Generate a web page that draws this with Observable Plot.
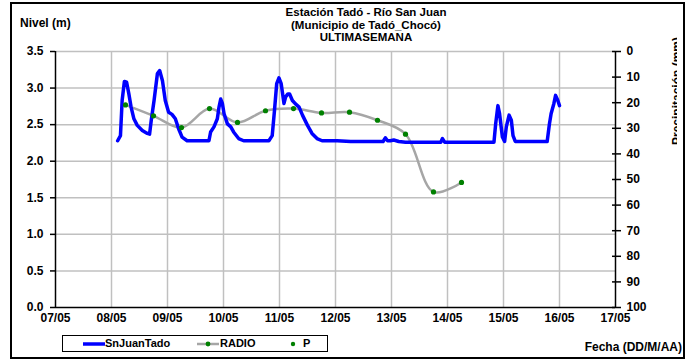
<!DOCTYPE html>
<html><head><meta charset="utf-8">
<script src="https://cdn.jsdelivr.net/npm/d3@7"></script>
<script src="https://cdn.jsdelivr.net/npm/@observablehq/plot@0.6"></script>
<style>
body{margin:0;background:#fff;font-family:"Liberation Sans",Arial,sans-serif;font-weight:bold;}
#wrap{position:relative;width:690px;height:360px;overflow:hidden;}
#frame{position:absolute;left:10px;top:2px;width:675px;height:357px;border:2px solid #000;box-sizing:border-box;}
#chart{position:absolute;left:0;top:0;}
.t{position:absolute;font-size:12px;white-space:nowrap;color:#000;}
#title{left:256px;width:220px;top:6px;text-align:center;font-size:11.5px;line-height:12.5px;}
#legend{position:absolute;left:62px;top:335px;width:266px;height:17px;border:1.5px solid #000;box-sizing:border-box;font-size:11px;}
#legend span{position:absolute;top:1px;}
#rlab{position:absolute;left:671px;top:36px;width:6px;height:110px;overflow:hidden;}
#rlab div{position:absolute;left:-49px;top:48px;width:110px;transform:rotate(-90deg);font-size:12px;line-height:14px;text-align:center;white-space:nowrap;}
</style></head>
<body><div id="wrap">
<div id="chart"></div>
<div id="frame"></div>
<div class="t" id="title">Estación Tadó - Río San Juan<br>(Municipio de Tadó_Chocó)<br>ULTIMASEMANA</div>
<div class="t" style="left:20px;top:16px;">Nivel (m)</div>
<div id="rlab"><div>Precipitación (mm)</div></div>
<div class="t" style="right:8px;top:340px;">Fecha (DD/M/AA)</div>
<div id="legend"></div>
</div>
<script>
// Series: SnJuanTado level (m), by day of May
const snDays = [8.11,8.16,8.19,8.23,8.27,8.31,8.35,8.40,8.46,8.55,8.64,8.68,8.71,8.76,8.82,8.86,8.91,8.96,9.02,9.08,9.14,9.20,9.26,9.35,
  9.74,9.77,9.83,9.89,9.92,9.95,9.98,10.01,10.07,10.13,10.18,10.27,10.36,
  10.81,10.87,10.91,10.95,10.99,11.03,11.08,11.11,11.15,11.18,11.23,11.29,11.35,11.41,11.50,11.58,11.67,11.76,
  12.03,12.27,12.75,12.85,12.89,12.93,12.98,13.04,13.13,13.25,13.88,13.91,13.95,
  14.83,14.86,14.90,14.93,14.98,15.02,15.05,15.10,15.14,15.17,15.21,
  15.78,15.82,15.85,15.90,15.93,15.97,16.00];
const snLevels = [2.28,2.35,2.83,3.09,3.08,2.92,2.74,2.58,2.49,2.42,2.38,2.37,2.56,2.83,3.20,3.24,3.10,2.83,2.67,2.64,2.58,2.44,2.33,2.28,
  2.28,2.40,2.47,2.58,2.74,2.85,2.79,2.65,2.51,2.47,2.40,2.31,2.28,
  2.28,2.35,2.69,3.06,3.14,3.06,2.79,2.88,2.92,2.92,2.83,2.78,2.74,2.63,2.49,2.38,2.31,2.28,
  2.28,2.27,2.27,2.27,2.32,2.28,2.28,2.29,2.27,2.26,2.26,2.31,2.26,
  2.26,2.51,2.76,2.65,2.33,2.27,2.47,2.63,2.56,2.35,2.27,
  2.27,2.51,2.65,2.79,2.90,2.83,2.76];
// Series: RADIO readings (m)
const radioDays = [8.25,8.75,9.25,9.75,10.25,10.75,11.25,11.75,12.25,12.75,13.25,13.75,14.25];
const radioLevels = [2.77,2.62,2.46,2.72,2.53,2.69,2.72,2.66,2.67,2.56,2.37,1.58,1.71];
// Axes
const xTicks = [7,8,9,10,11,12,13,14,15,16,17];
const xLabels = ["07/05","08/05","09/05","10/05","11/05","12/05","13/05","14/05","15/05","16/05","17/05"];
const yTicks = [0,0.5,1,1.5,2,2.5,3,3.5];
const rightTicks = [0,10,20,30,40,50,60,70,80,90,100];
const yMax = 3.5;

const sn = snDays.map((d,i)=>({d, v: snLevels[i]}));
const radio = radioDays.map((d,i)=>({d, v: radioLevels[i]}));
const toY = p => yMax*(1-p/100);

const chart = Plot.plot({
  width: 690, height: 330,
  marginLeft: 55, marginRight: 75, marginTop: 51, marginBottom: 23,
  style: {fontFamily: '"Liberation Sans", Arial, sans-serif', fontSize: "12px", fontWeight: "bold", color: "#000", background: "transparent"},
  x: {domain: [7,17]},
  y: {domain: [0,yMax]},
  marks: [
    Plot.gridX({ticks: xTicks.slice(1,-1), stroke: "#c0c0c0", strokeOpacity: 1, strokeWidth: 1.5}),
    Plot.gridY({ticks: yTicks.slice(1), stroke: "#c0c0c0", strokeOpacity: 1, strokeWidth: 1.5}),
    Plot.ruleX([7], {stroke: "#000", strokeWidth: 1.5}),
    Plot.ruleX([17], {stroke: "#000", strokeWidth: 1.5}),
    Plot.ruleY([0], {stroke: "#000", strokeWidth: 1.5}),
    Plot.axisX({ticks: xTicks, tickFormat: d => xLabels[xTicks.indexOf(d)], tickSize: 0, tickPadding: 6, label: null}),
    Plot.axisY({ticks: yTicks, tickFormat: d => d.toFixed(1), tickSize: 5, tickPadding: 7, label: null, strokeWidth: 1.5}),
    Plot.axisY({anchor: "right", ticks: rightTicks.map(toY), tickFormat: y => String(Math.round(100*(1-y/yMax))), tickSize: 9, dx: -4, tickPadding: 6, label: null, strokeWidth: 1.5}),
    Plot.line(radio, {x: "d", y: "v", stroke: "#a6a6a6", strokeWidth: 2.5, curve: "catmull-rom"}),
    Plot.line(sn, {x: "d", y: "v", stroke: "#0000ff", strokeWidth: 3.5, strokeLinejoin: "round"}),
    Plot.dot(radio, {x: "d", y: "v", fill: "#008000", r: 2.6})
  ]
});
document.getElementById("chart").appendChild(chart);

const lg = document.getElementById("legend");
lg.innerHTML = `
<svg style="position:absolute;left:20px;top:5px" width="22" height="6"><line x1="0" y1="3" x2="22" y2="3" stroke="#0000ff" stroke-width="3.5"/></svg>
<span style="left:42px">SnJuanTado</span>
<svg style="position:absolute;left:134px;top:4px" width="22" height="8"><line x1="0" y1="4" x2="22" y2="4" stroke="#a6a6a6" stroke-width="2.5"/><circle cx="11" cy="4" r="2.4" fill="#008000"/></svg>
<span style="left:157px">RADIO</span>
<svg style="position:absolute;left:226px;top:4px" width="8" height="8"><circle cx="4" cy="4" r="2.2" fill="#008000"/></svg>
<span style="left:240px">P</span>`;
</script>
</body></html>
